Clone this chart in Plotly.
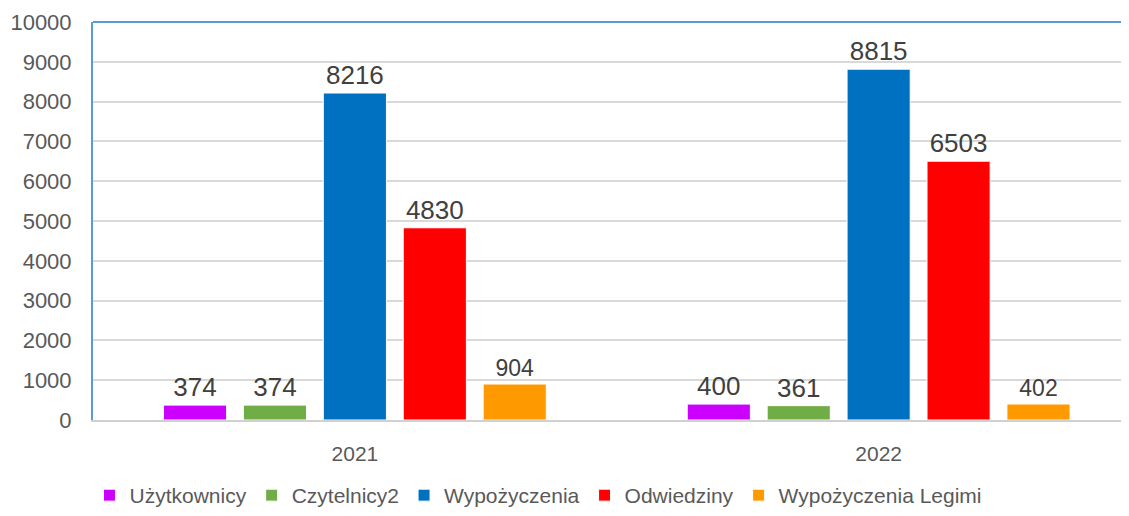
import plotly.graph_objects as go

categories = ["2021", "2022"]
series_names = ["Użytkownicy", "Czytelnicy2", "Wypożyczenia", "Odwiedziny", "Wypożyczenia Legimi"]
uzytkownicy = [374, 400]
czytelnicy2 = [374, 361]
wypozyczenia = [8216, 8815]
odwiedziny = [4830, 6503]
legimi = [904, 402]
y_ticks = [0, 1000, 2000, 3000, 4000, 5000, 6000, 7000, 8000, 9000, 10000]

values = [uzytkownicy, czytelnicy2, wypozyczenia, odwiedziny, legimi]
colors = ["#CC00FF", "#70AD47", "#0070C0", "#FF0000", "#FF9900"]
label_sizes = [26, 26, 26, 26, 23]

FONT = "Liberation Sans"

fig = go.Figure()
for name, vals, col, ls in zip(series_names, values, colors, label_sizes):
    fig.add_trace(go.Bar(
        name=name, x=categories, y=vals,
        marker=dict(color=col, line=dict(color="white", width=1)),
        text=[str(v) for v in vals], textposition="outside",
        textfont=dict(family=FONT, size=ls, color="#404040"),
        cliponaxis=False,
    ))

fig.update_layout(
    width=1121, height=508,
    margin=dict(l=85, r=0, t=14, b=96, autoexpand=False),
    paper_bgcolor="white", plot_bgcolor="white",
    barmode="group", bargap=0.237, bargroupgap=0.21,
    font=dict(family=FONT, color="#595959"),
    showlegend=True,
    legend=dict(orientation="h", x=0.43, xanchor="center",
                yref="container", y=0.0, yanchor="bottom",
                font=dict(family=FONT, size=21, color="#595959"), itemclick=False),
    xaxis=dict(type="category", range=[-0.5, 1.478], showgrid=False, automargin=False,
               showline=True, linecolor="#D0D0D0", linewidth=2,
               tickfont=dict(family=FONT, size=21, color="#595959"),
               ticks="", ticklabelstandoff=14),
    yaxis=dict(range=[0, 10000], tickvals=y_ticks, ticktext=[str(t) for t in y_ticks],
               showgrid=True, gridcolor="#D9D9D9", gridwidth=2, automargin=False,
               zeroline=False, showline=True, linecolor="#5B9BD5", linewidth=2,
               tickfont=dict(family=FONT, size=22, color="#595959"),
               ticks="", ticklabelstandoff=15),
    shapes=[dict(type="line", xref="paper", yref="paper", x0=0, x1=1, y0=1, y1=1,
                 line=dict(color="#5B9BD5", width=2))],
)

fig.write_html("out.html")
